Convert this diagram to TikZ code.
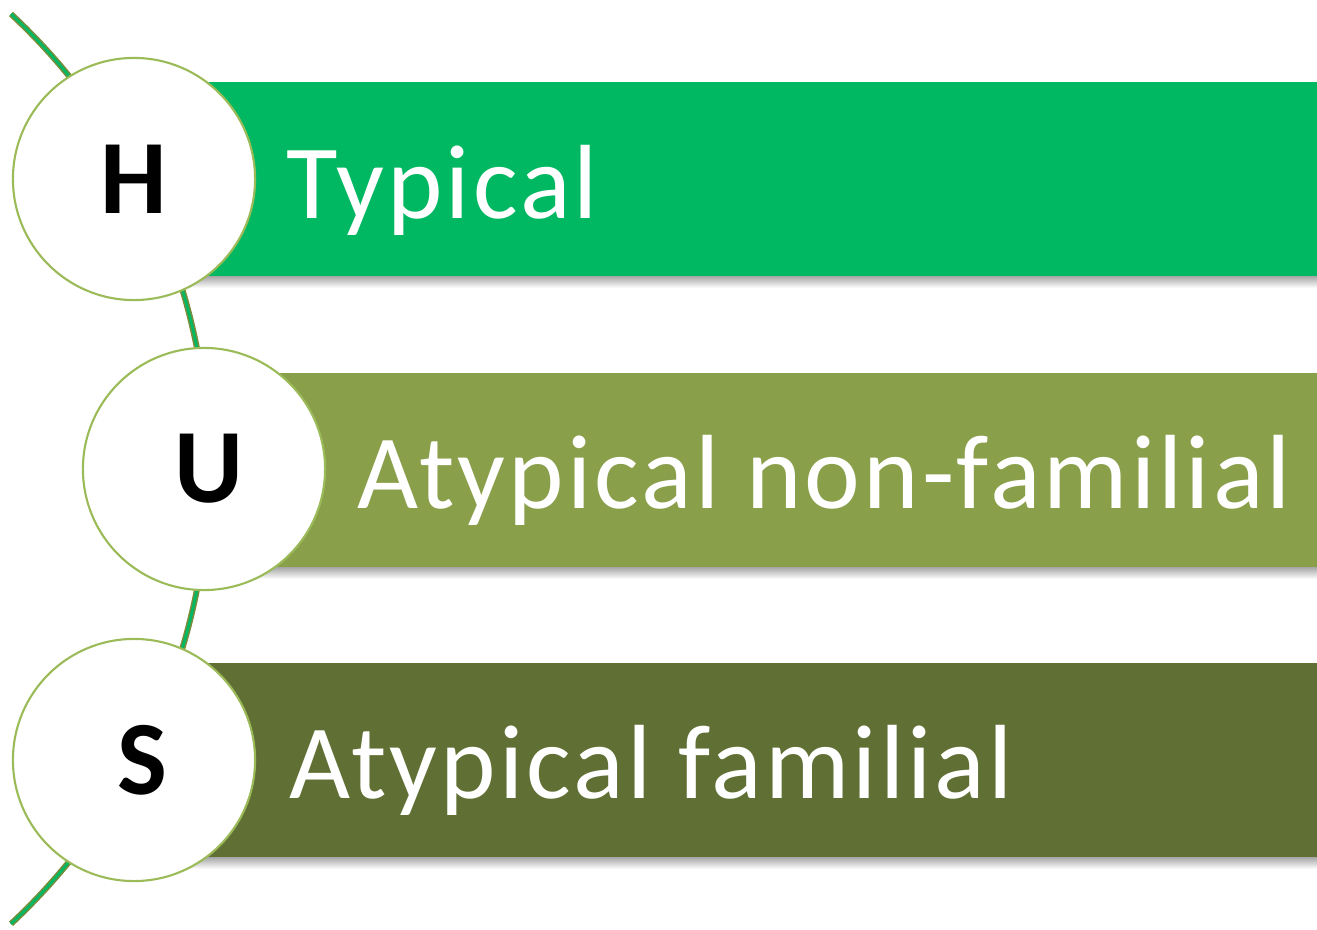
\documentclass[tikz,border=0pt]{standalone}
\usepackage{fontspec}
\setmainfont{Carlito}
\definecolor{barTypical}{RGB}{0,184,98}
\definecolor{barNonFam}{RGB}{138,159,74}
\definecolor{barFam}{RGB}{96,112,52}
\definecolor{ringLine}{RGB}{155,187,89}
\definecolor{arcEdge}{RGB}{120,140,60}

\begin{document}
\begin{tikzpicture}[x=0.01cm, y=0.01cm,
  ring/.style={circle, draw=ringLine, line width=0.6pt, fill=white,
    minimum size=2.42cm, inner sep=0pt,
    font=\fontsize{30}{30}\selectfont\bfseries},
  caption/.style={anchor=base west, inner sep=0pt, text=white,
    font=\fontsize{30}{30}\selectfont\addfontfeature{LetterSpace=3}},
  shadow/.style={top color=black!35, bottom color=white}]
  \useasboundingbox (0,0) rectangle (1317,-930);
  % the arc behind the circles
  \coordinate (arcTop) at (11,-14);
  \draw[arcEdge, line width=1.7pt] (arcTop) arc[start angle=47, end angle=-47, radius=622];
  \draw[barTypical, line width=0.8pt] (arcTop) arc[start angle=47, end angle=-47, radius=622];
  % bars
  \fill[barTypical] (134,-82) rectangle (1317,-276);
  \shade[shadow] (134,-276) rectangle (1317,-288);
  \fill[barNonFam] (204,-373) rectangle (1317,-567);
  \shade[shadow] (204,-567) rectangle (1317,-579);
  \fill[barFam] (134,-663) rectangle (1317,-857);
  \shade[shadow] (134,-857) rectangle (1317,-869);
  % circles
  \node[ring] (H) at (134,-179) {H};
  \node[ring] (U) at (204,-469) {\hspace*{0.1cm}U};
  \node[ring] (S) at (134,-760) {\hspace*{0.16cm}S};
  % texts
  \node[caption] (typical) at (286,-218) {Typical};
  \node[caption] (nonfam) at (357,-508) {Atypical non-familial};
  \node[caption] (fam) at (289,-798) {Atypical familial};
\end{tikzpicture}
\end{document}
